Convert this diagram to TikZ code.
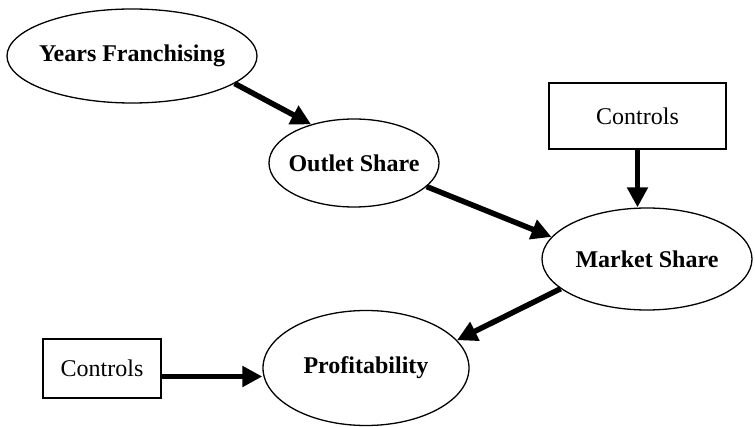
\documentclass[tikz,border=0pt]{standalone}
\usepackage{fontspec}
\setmainfont{Liberation Serif}
\usetikzlibrary{shapes.geometric,arrows.meta}
\tikzset{
  ov/.style={draw, ellipse, inner sep=0pt, line width=1.3pt, font=\fontsize{24}{28}\selectfont\bfseries},
  bx/.style={draw, rectangle, inner sep=0pt, line width=1.3pt, font=\fontsize{24}{28}\selectfont},
  arr/.style={line width=5.5pt, -{Triangle[length=20pt,width=20pt]}}
}
\begin{document}
\begin{tikzpicture}[x=1pt,y=-1pt]
\useasboundingbox (0,0) rectangle (755,427);
\node[ov, minimum width=250pt, minimum height=94pt] (yf) at (132,56) {\makebox[0pt]{Years Franchising}};
\node[ov, minimum width=170pt, minimum height=88pt] (os) at (354,163) {\makebox[0pt]{Outlet Share}};
\node[ov, minimum width=210pt, minimum height=102pt] (ms) at (647,259) {\makebox[0pt]{Market Share}};
\node[ov, minimum width=206pt, minimum height=115pt] (pr) at (366,368) {\makebox[0pt]{Profitability}};
\node[bx, minimum width=177pt, minimum height=66pt] (ct) at (637.5,116) {Controls};
\node[bx, minimum width=118pt, minimum height=59pt] (cb) at (102,368.5) {Controls};
\draw[arr] (yf.-15) -- (os.138);
\draw[arr] (os.-18) -- (ms.167);
\draw[arr] (ct.south) -- (ct.south |- ms.north);
\draw[arr] (ms.-161) -- (pr.17);
\draw[arr] ([yshift=-8pt]cb.east) -- ([yshift=-8pt]cb.east -| pr.west);
\end{tikzpicture}
\end{document}
